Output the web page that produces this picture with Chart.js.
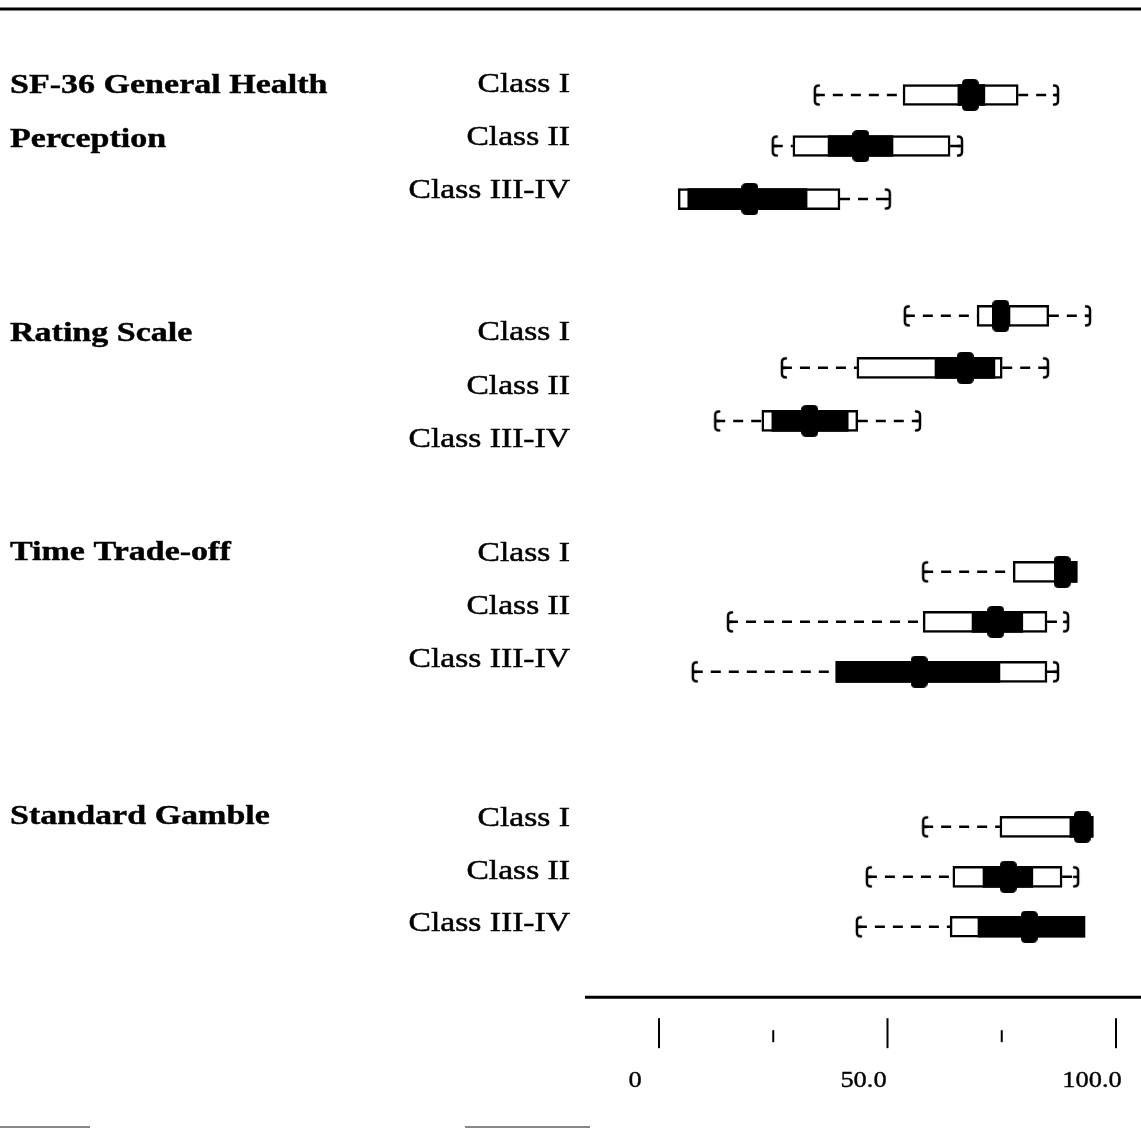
<!DOCTYPE html>
<html lang="en">
<head>
  <meta charset="UTF-8" />
  <title>Health utility box plots by class</title>
  <script src="https://cdn.jsdelivr.net/npm/chart.js@4.4.8/dist/chart.umd.min.js"></script>
  <style>
    html, body { margin: 0; padding: 0; background: #fff; }
    #wrap { width: 1141px; height: 1129px; position: relative; }
  </style>
</head>
<body>
  <div id="wrap"><canvas id="boxChart"></canvas></div>

  <script>
    // groups and classes
    const groups = [['SF-36 General Health', 'Perception'], ['Rating Scale'], ['Time Trade-off'], ['Standard Gamble']];
    const classes = ['Class I', 'Class II', 'Class III-IV'];

    // one row per group x class (scale 0-100)
    const mins    = [34.1, 24.9,  4.2, 53.8, 26.9, 12.3, 57.8, 15.1,  7.4, 57.8, 45.5, 43.3];
    const q1      = [53.4, 29.3,  4.2, 69.6, 43.3, 22.5, 77.5, 57.8, 38.7, 74.6, 64.3, 63.7];
    const medians = [68.1, 44.2, 19.9, 74.8, 67.0, 33.0, 88.2, 73.7, 56.9, 92.6, 76.4, 81.0];
    const q3      = [78.6, 63.7, 39.6, 85.3, 75.1, 43.5, 91.5, 84.9, 84.9, 95.0, 88.2, 93.2];
    const maxs    = [87.3, 66.3, 50.5, 94.3, 85.1, 57.1, 91.5, 89.5, 87.3, 95.0, 91.7, 93.2];
    // dark band inside the box
    const bandLo  = [65.4, 37.0,  6.3, 73.1, 60.4, 24.7, 86.7, 68.5, 38.7, 89.9, 70.9, 69.8];
    const bandHi  = [71.3, 51.2, 32.4, 76.8, 73.5, 41.4, 91.5, 79.6, 74.6, 95.0, 81.8, 93.2];

    // axis ticks
    const tickValues = [0, 25, 50, 75, 100];
    const tickLabels = ['0', '', '50.0', '', '100.0'];

    // vertical layout in row units
    const rowPos    = [0, 1, 2.04, 4.33, 5.35, 6.39, 9.35, 10.33, 11.31, 14.35, 15.33, 16.31];
    const labelRows = [-0.2, 0.84, 1.88, 4.65, 5.71, 6.76, 9.0, 10.04, 11.08, 14.18, 15.22, 16.24];
    const titleRows = [-0.18, 4.69, 8.98, 14.16];
    const axisRow = 17.69;

    // whisker caps and median marker as little canvases
    function makeCap(dir) {
      const c = document.createElement('canvas');
      c.width = 20; c.height = 24;
      const g = c.getContext('2d');
      g.strokeStyle = '#000'; g.lineWidth = 2.5; g.lineCap = 'round';
      const x = 10, d = dir * 4;
      g.beginPath();
      g.moveTo(x + d, 2.5); g.quadraticCurveTo(x, 2.5, x, 6);
      g.lineTo(x, 18); g.quadraticCurveTo(x, 21.5, x + d, 21.5);
      g.moveTo(x, 12); g.lineTo(x + d, 12);
      g.stroke();
      return c;
    }
    function makeMedian() {
      const c = document.createElement('canvas');
      c.width = 17; c.height = 32;
      const g = c.getContext('2d');
      const w = 17, h = 32, r = 5;
      g.fillStyle = '#000';
      g.beginPath();
      g.moveTo(r, 0); g.lineTo(w - r, 0); g.quadraticCurveTo(w, 0, w, r);
      g.lineTo(w, h - r); g.quadraticCurveTo(w, h, w - r, h);
      g.lineTo(r, h); g.quadraticCurveTo(0, h, 0, h - r);
      g.lineTo(0, r); g.quadraticCurveTo(0, 0, r, 0);
      g.fill();
      return c;
    }

    const whiskers = [];
    const lowCaps = [];
    const highCaps = [];
    rowPos.forEach((y, i) => {
      if (mins[i] < q1[i]) {
        whiskers.push({ x: mins[i], y }, { x: q1[i], y }, { x: null, y });
        lowCaps.push({ x: mins[i], y });
      }
      if (maxs[i] > q3[i]) {
        whiskers.push({ x: q3[i], y }, { x: maxs[i], y }, { x: null, y });
        highCaps.push({ x: maxs[i], y });
      }
    });

    const boxes = rowPos.map((y, i) => ({ x: [q1[i], q3[i]], y }));
    const bands = rowPos.map((y, i) => ({ x: [bandLo[i], bandHi[i]], y }));
    const meds  = rowPos.map((y, i) => ({ x: medians[i], y }));

    function stretchText(ctx, text, x, y, sx, align, weight) {
      ctx.save();
      ctx.translate(x, y);
      ctx.scale(sx, 1);
      ctx.textAlign = align;
      ctx.fillText(text, 0, 0);
      if (weight) { ctx.lineWidth = weight; ctx.strokeText(text, 0, 0); }
      ctx.restore();
    }

    const frame = {
      id: 'frame',
      afterDraw(chart) {
        const { ctx, scales: { x, y } } = chart;
        ctx.save();
        ctx.fillStyle = '#000';
        ctx.strokeStyle = '#000';

        // rule at the top
        ctx.lineWidth = 3;
        ctx.beginPath(); ctx.moveTo(0, 9); ctx.lineTo(chart.width, 9); ctx.stroke();

        // faint scan edges at the bottom
        ctx.strokeStyle = '#888'; ctx.lineWidth = 2;
        ctx.beginPath();
        ctx.moveTo(0, 1127); ctx.lineTo(90, 1127);
        ctx.moveTo(465, 1127); ctx.lineTo(590, 1127);
        ctx.stroke();
        ctx.strokeStyle = '#000';

        ctx.textBaseline = 'middle';
        // group titles
        ctx.font = 'bold 27px "Liberation Serif"';
        groups.forEach((lines, g) => {
          lines.forEach((t, k) => stretchText(ctx, t, 10, y.getPixelForValue(titleRows[g]) + k * 54, 1.26, 'left', 0.4));
        });
        // class labels
        ctx.font = '28px "Liberation Serif"';
        labelRows.forEach((r, i) => {
          stretchText(ctx, classes[i % 3], 570, y.getPixelForValue(r), 1.2, 'right', 0.5);
        });

        // value axis
        const ay = y.getPixelForValue(axisRow);
        ctx.lineWidth = 3;
        ctx.beginPath(); ctx.moveTo(585, ay); ctx.lineTo(chart.width, ay); ctx.stroke();
        ctx.lineWidth = 2;
        ctx.font = '24px "Liberation Serif"';
        tickValues.forEach((v, i) => {
          const px = x.getPixelForValue(v);
          const major = tickLabels[i] !== '';
          ctx.beginPath();
          ctx.moveTo(px, ay + (major ? 21 : 33));
          ctx.lineTo(px, ay + (major ? 51 : 45));
          ctx.stroke();
          if (major) stretchText(ctx, tickLabels[i], px - 24, ay + 84, 1.1, 'center', 0.4);
        });
        ctx.restore();
      }
    };

    new Chart(document.getElementById('boxChart'), {
      type: 'bar',
      data: {
        datasets: [
          {
            type: 'line', data: whiskers, order: 5,
            borderColor: '#000', borderWidth: 2.5, borderDash: [10, 8],
            pointRadius: 0, spanGaps: false
          },
          {
            data: boxes, order: 4, grouped: false,
            backgroundColor: '#fff', borderColor: '#000', borderWidth: 2.5,
            borderSkipped: false, barThickness: 21
          },
          {
            data: bands, order: 3, grouped: false,
            backgroundColor: '#000', borderWidth: 0, barThickness: 21
          },
          {
            type: 'line', data: meds, order: 2, showLine: false,
            pointStyle: makeMedian(), pointRadius: 10
          },
          {
            type: 'line', data: lowCaps, order: 1, showLine: false,
            pointStyle: makeCap(1), pointRadius: 10
          },
          {
            type: 'line', data: highCaps, order: 0, showLine: false,
            pointStyle: makeCap(-1), pointRadius: 10
          }
        ]
      },
      options: {
        indexAxis: 'y',
        responsive: true,
        maintainAspectRatio: false,
        animation: false,
        layout: { padding: 0, autoPadding: false },
        plugins: {
          legend: { display: false },
          tooltip: { enabled: false }
        },
        scales: {
          // 0 sits at x=659 and 100 at x=1116
          x: { type: 'linear', display: false, offset: false, min: -144.2, max: 105.47 },
          // row 0 at y=95, 51px per row
          y: { type: 'linear', display: false, offset: false, reverse: true, min: -1.863, max: 20.275 }
        }
      },
      plugins: [frame]
    });
  </script>
</body>
</html>
